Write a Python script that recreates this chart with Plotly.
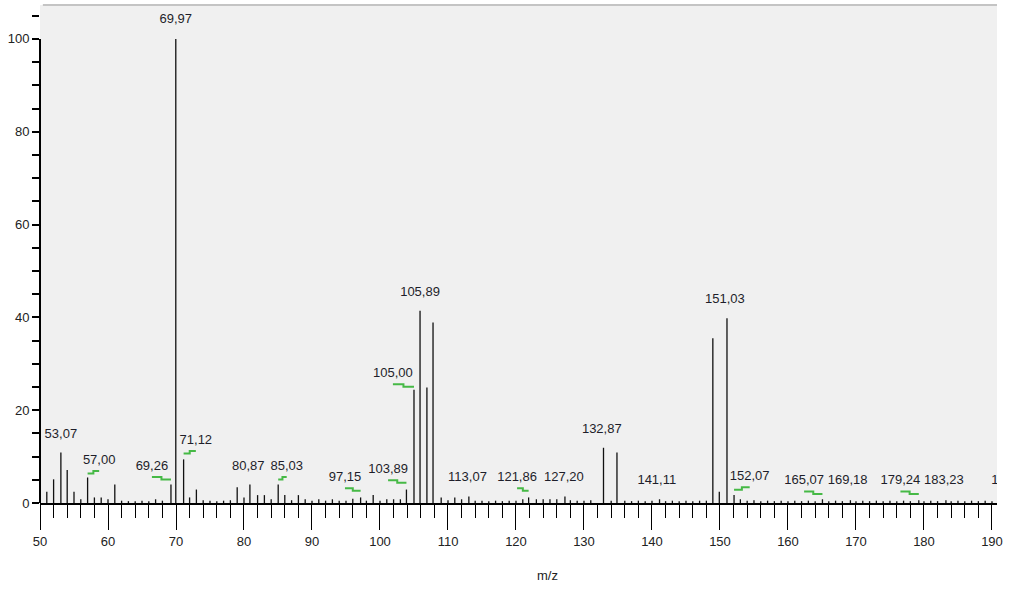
import plotly.graph_objects as go

# Mass spectrum: m/z positions and relative intensities (%)
mz = [51, 52, 53.07, 54, 55, 56, 57.00, 58, 59, 60, 61, 62, 63, 64, 65, 66, 67, 68,
      69.26, 69.97, 71.12, 72, 73, 74, 75, 76, 77, 78, 79, 80, 80.87, 82, 83, 84,
      85.03, 86, 87, 88, 89, 90, 91, 92, 93, 94, 95, 96, 97.15, 98, 99, 100, 101,
      102, 103, 103.89, 105.00, 105.89, 106.9, 107.8, 109, 110, 111, 112, 113.07,
      114, 115, 116, 117, 118, 119, 120, 121, 121.86, 123, 124, 125, 126, 127.20,
      128, 129, 130, 131, 132.87, 134, 134.85, 136, 137, 138, 139, 140, 141.11,
      142, 143, 144, 145, 146, 147, 148, 148.95, 149.9, 151.03, 152.07, 153, 154,
      155, 156, 157, 158, 159, 160, 161, 162, 163, 164, 165.07, 166, 167, 168,
      169.18, 170, 171, 172, 173, 174, 175, 176, 177, 178, 179.24, 180, 181, 182,
      183.23, 184, 185, 186, 187, 188, 189, 190, 192.81]
intensity = [2.4, 5.1, 10.9, 7.1, 2.4, 0.8, 5.5, 1.2, 1.2, 0.8, 4.0, 0.5, 0.4, 0.4, 0.5, 0.4, 0.8, 0.5,
             4.0, 100.0, 9.4, 1.2, 2.9, 0.6, 0.5, 0.4, 0.5, 0.6, 3.4, 1.2, 4.0, 1.7, 1.7, 0.8,
             4.0, 1.7, 0.6, 1.7, 0.8, 0.5, 0.8, 0.5, 0.8, 0.5, 0.5, 0.9, 1.2, 0.5, 1.7, 0.5, 0.8,
             0.8, 0.8, 2.9, 24.4, 41.4, 24.9, 38.9, 1.2, 0.6, 1.2, 0.8, 1.4,
             0.5, 0.5, 0.4, 0.5, 0.4, 0.5, 0.5, 0.8, 1.2, 0.8, 0.8, 0.8, 0.8, 1.4,
             0.6, 0.5, 0.5, 0.6, 11.9, 0.5, 10.9, 0.5, 0.4, 0.5, 0.4, 0.5, 0.8,
             0.4, 0.5, 0.4, 0.5, 0.4, 0.5, 0.5, 35.5, 2.4, 39.8, 1.7, 0.8, 0.5,
             0.6, 0.4, 0.5, 0.4, 0.5, 0.4, 0.5, 0.4, 0.5, 0.4, 0.8, 0.4, 0.5, 0.4,
             0.6, 0.4, 0.5, 0.4, 0.5, 0.4, 0.5, 0.4, 0.5, 0.4, 0.6, 0.4, 0.5, 0.4,
             0.6, 0.4, 0.5, 0.4, 0.5, 0.4, 0.5, 0.4, 0.6]

# Annotated peaks (m/z values printed above the sticks)
labelled_mz = [53.07, 57.00, 69.26, 69.97, 71.12, 80.87, 85.03, 97.15, 103.89, 105.00,
               105.89, 113.07, 121.86, 127.20, 132.87, 141.11, 151.03, 152.07, 165.07,
               169.18, 179.24, 183.23, 192.81]

x_ticks = [50, 60, 70, 80, 90, 100, 110, 120, 130, 140, 150, 160, 170, 180, 190]
y_ticks = [0, 20, 40, 60, 80, 100]

# Label placement: shift (m/z units, intensity units) from the peak top
label_shift = {
    53.07: (0.0, 3.8), 57.00: (1.7, 3.6), 69.26: (-2.8, 3.8), 69.97: (0.0, 4.1),
    71.12: (1.8, 4.0), 80.87: (-0.25, 3.8), 85.03: (1.25, 3.8), 97.15: (-2.3, 4.2),
    103.89: (-2.7, 4.2), 105.00: (-3.1, 3.4), 105.89: (0.0, 3.9), 113.07: (-0.2, 4.0),
    121.86: (-1.7, 4.2), 127.20: (-0.15, 4.0), 132.87: (-0.25, 3.8), 141.11: (-0.4, 3.9),
    151.03: (-0.3, 3.95), 152.07: (2.3, 3.9), 165.07: (-2.7, 3.9), 169.18: (-0.4, 4.1),
    179.24: (-2.7, 4.1), 183.23: (-0.3, 4.1), 192.81: (0.0, 4.1),
}

FONT = "Liberation Sans, Arial, sans-serif"
X_MIN, X_MAX = 50, 190.74
Y_MAX = 107.3

height_of = dict(zip(mz, intensity))

# Stick spectrum as one line trace with gaps
stick_x, stick_y = [], []
for m, h in zip(mz, intensity):
    stick_x += [m, m, None]
    stick_y += [0, h, None]

# Label positions and green leader lines for displaced labels
lab_x, lab_y, lab_txt = [], [], []
lead_x, lead_y = [], []
for m in labelled_mz:
    dx, dy = label_shift[m]
    h = height_of[m]
    lx, ly = m + dx, h + dy
    lab_x.append(lx)
    lab_y.append(ly)
    lab_txt.append(f"{m:.2f}".replace(".", ","))
    if abs(dx) >= 1:
        upper = ly - 2.2
        lower = upper - 0.55
        mid = (lx + m) / 2
        lead_x += [lx, mid, mid, m, None]
        lead_y += [upper, upper, lower, lower, None]

fig = go.Figure()
fig.add_trace(go.Scatter(x=stick_x, y=stick_y, mode="lines",
                         line=dict(color="#111111", width=1.3),
                         hoverinfo="skip", showlegend=False))
fig.add_trace(go.Scatter(x=lead_x, y=lead_y, mode="lines",
                         line=dict(color="#46b946", width=2),
                         hoverinfo="skip", showlegend=False))
fig.add_trace(go.Scatter(x=lab_x, y=lab_y, mode="text", text=lab_txt,
                         textposition="middle center",
                         textfont=dict(family=FONT, size=13, color="#1e1e2a"),
                         cliponaxis=True, hoverinfo="skip", showlegend=False))

fig.update_layout(
    width=1009, height=591,
    margin=dict(l=40, r=12, t=5, b=88),
    paper_bgcolor="white",
    plot_bgcolor="#f0f0f0",
    font=dict(family=FONT, size=13, color="#222222"),
    xaxis=dict(
        range=[X_MIN, X_MAX], tickvals=x_ticks, ticktext=[str(v) for v in x_ticks],
        showgrid=False, zeroline=False,
        showline=True, linecolor="black", linewidth=2,
        ticks="outside", ticklen=25, tickwidth=1.3, tickcolor="black",
        ticklabelstandoff=0,
        minor=dict(dtick=2, tick0=50, ticks="outside", ticklen=13,
                   tickwidth=1.3, tickcolor="black", showgrid=False),
        tickfont=dict(family=FONT, size=13, color="#222222"),
    ),
    yaxis=dict(
        range=[0, Y_MAX], tickvals=y_ticks, ticktext=[str(v) for v in y_ticks],
        showgrid=False, zeroline=False, showline=False,
        ticks="outside", ticklen=7, tickwidth=1.5, tickcolor="black",
        minor=dict(dtick=5, tick0=0, ticks="outside", ticklen=7,
                   tickwidth=1.5, tickcolor="black", showgrid=False),
        tickfont=dict(family=FONT, size=13, color="#222222"),
    ),
    shapes=[
        # frame top edge
        dict(type="line", xref="paper", yref="paper", x0=0.003, x1=1, y0=1, y1=1,
             line=dict(color="#c4c4c4", width=2)),
        # intensity axis spine (0 to 100 only)
        dict(type="line", xref="paper", yref="paper", x0=0, x1=0,
             y0=0, y1=100 / Y_MAX, line=dict(color="black", width=2)),
    ],
    annotations=[
        dict(text="m/z", xref="paper", yref="paper", x=0.53, y=-0.145,
             showarrow=False, xanchor="center", yanchor="middle",
             font=dict(family=FONT, size=13, color="#222222")),
    ],
)

fig.write_html("out.html")
